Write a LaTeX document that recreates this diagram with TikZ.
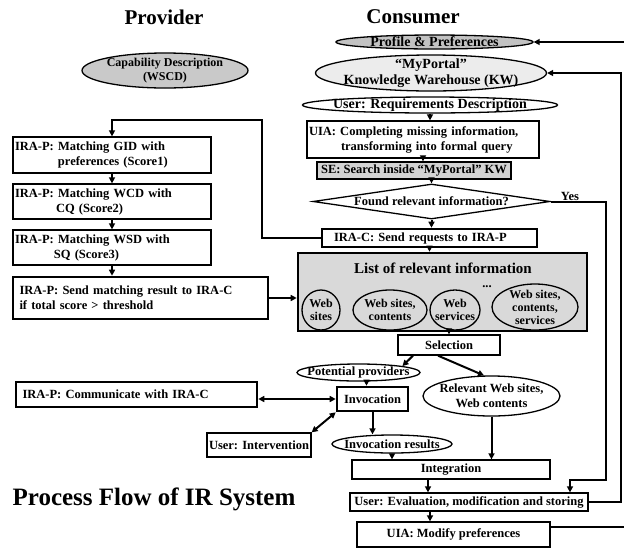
\documentclass[tikz,border=0pt]{standalone}
\usepackage{fontspec}
\setmainfont{Liberation Serif}
\usetikzlibrary{shapes.geometric}
\usetikzlibrary{arrows.meta}
\definecolor{capgray}{HTML}{C9C9C9}
\definecolor{profgray}{HTML}{C2C2C2}
\definecolor{portalgray}{HTML}{ECECEC}
\definecolor{segray}{HTML}{D3D3D3}
\definecolor{listgray}{HTML}{D9D9D9}

\begin{document}
\begin{tikzpicture}[x=1pt,y=-1pt,
  txt/.style={font=\bfseries\fontsize{12.5}{15}\selectfont},
  big/.style={font=\bfseries\fontsize{14}{15.5}\selectfont},
  inner/.style={font=\bfseries\fontsize{12}{13}\selectfont,align=center},
  title/.style={font=\bfseries\fontsize{21}{23}\selectfont},
  wh/.style 2 args={minimum width=#1pt,minimum height=#2pt},
  box/.style={draw,txt,line width=1.3pt,inner sep=1.5pt},
  thickbox/.style={box,line width=2.6pt},
  oval/.style={draw,ellipse,line width=1.3pt,inner sep=0pt},
  link/.style={line width=2pt,-{Triangle[length=6pt,width=6pt]}},
  both/.style={line width=2pt,{Triangle[length=6pt,width=6pt]}-{Triangle[length=6pt,width=6pt]}}]
\useasboundingbox (0,0) rectangle (624,550);
\clip (0,0) rectangle (624,550);

% titles
\node[title] (prov) at (164,17) {Provider};
\node[title] (cons) at (413,17) {Consumer};
\node[title,font=\bfseries\fontsize{25}{27}\selectfont] (sys) at (154,499) {Process Flow of IR System};

% consumer side
\node[oval,fill=capgray,wh={166}{35},label={[font=\bfseries\fontsize{12}{13.5}\selectfont,align=center]center:{Capability Description\\(WSCD)}}] (cap) at (165,70.5) {};
\node[oval,fill=profgray,wh={197}{14},label={[big]center:{Profile \& Preferences}}] (prof) at (434.5,42) {};
\node[oval,fill=portalgray,wh={231}{36},label={[big,align=center]center:{``MyPortal''\\Knowledge Warehouse (KW)}}] (portal) at (431,73) {};
\node[oval,wh={255}{16},label={[big]center:{User: Requirements Description}}] (req) at (430,105) {};
\node[box,wh={232}{37},text width=228pt,align=left] (uia) at (423,139.5) {UIA: Completing missing information,\\\hspace*{32pt}transforming into formal query};
\node[box,fill=segray,wh={194}{17},inner sep=0pt] (se) at (414,170.5) {SE: Search inside ``MyPortal'' KW};
\node[draw,diamond,aspect=6.77,inner sep=0pt,wh={237}{35},line width=1.3pt,txt] (found) at (431.5,201.5) {Found relevant information?};
\node[txt] (yes) at (570,196) {Yes};
\node[thickbox,wh={215}{18},inner sep=0pt,text width=207pt,align=left] (irac) at (429.5,238) {\hspace*{8pt}IRA-C: Send requests to IRA-P};

% list of relevant information
\node[draw,line width=2.6pt,fill=listgray,wh={289}{78}] (list) at (442.5,292) {};
\node[font=\bfseries\fontsize{15}{17}\selectfont] (listtitle) at (443,268) {List of relevant information};
\node[oval,wh={38}{40},label={[inner]center:{Web\\sites}}] (ws) at (321,310) {};
\node[oval,wh={74}{40},label={[inner]center:{Web sites,\\contents}}] (wsc) at (390,310) {};
\node[oval,wh={50}{40},label={[inner]center:{Web\\services}}] (wsv) at (455,310) {};
\node[txt] (dots) at (487,287) {...};
\node[oval,wh={86}{46},label={[inner]center:{Web sites,\\contents,\\services}}] (wscs) at (535,307) {};

% selection and invocation
\node[box,wh={102}{20}] (sel) at (449,345) {Selection};
\node[oval,wh={123}{17},label={[txt]center:{Potential providers}}] (pot) at (358.5,372.5) {};
\node[oval,wh={137}{40},label={[txt,align=center]center:{Relevant Web sites,\\Web contents}}] (rel) at (491.5,396) {};
\node[thickbox,wh={71}{24}] (inv) at (372.5,399) {Invocation};
\node[box,wh={104}{24},inner sep=1pt] (interv) at (259,445) {User: Intervention};
\node[oval,wh={120}{18},label={[txt]center:{Invocation results}}] (res) at (392,444) {};
\node[box,wh={198}{19}] (integ) at (451,469.5) {Integration};
\node[box,wh={238}{18},inner sep=0.5pt] (eval) at (469,502) {User: Evaluation, modification and storing};
\node[box,wh={193}{25}] (modp) at (453.5,534.5) {UIA: Modify preferences};

% provider side
\node[box,wh={198}{36},text width=194pt,align=left] (gid) at (112,155) {IRA-P: Matching GID with\\\hspace*{43pt}preferences (Score1)};
\node[box,wh={198}{35},text width=194pt,align=left] (wcd) at (112,201.5) {IRA-P: Matching WCD with\\\hspace*{41pt}CQ (Score2)};
\node[box,wh={198}{35},text width=194pt,align=left] (wsd) at (112,247.5) {IRA-P: Matching WSD with\\\hspace*{39pt}SQ (Score3)};
\node[thickbox,wh={255}{42},text width=246pt,align=left] (send) at (140.5,298) {\hspace*{2pt}IRA-P: Send matching result to IRA-C\\\hspace*{2pt}if total score > threshold};
\node[thickbox,wh={241}{25},text width=232pt,align=left] (comm) at (136.5,394.5) {\hspace*{2pt}IRA-P: Communicate with IRA-C};

% turning points
\coordinate (ret) at (262,120);
\coordinate (yesturn) at (606,480);
\coordinate (kwturn) at (621,73);
\coordinate (prefturn) at (628,42);

% connectors
\draw[link] (req.south) -- (req.south |- uia.north);
\draw[link] (uia.south) -- (uia.south |- se.north);
\draw[link] (found.north |- se.south) -- (found.north);
\draw[link] (found.south) -- (found.south |- irac.north);
\draw[link] (irac.south) -- (irac.south |- list.north);
\draw[link] (irac.west) -| (ret) -| (gid.north);
\draw[link] (gid.south) -- (wcd.north);
\draw[link] (wcd.south) -- (wsd.north);
\draw[link] (wsd.south) -- (send.north -| wsd.south);
\draw[link] (send.east) -- (send.east -| list.west);
\draw[link] (sel.north |- list.south) -- (sel.north);
\draw[link] ([xshift=-36pt]sel.south) -- (pot.north east);
\draw[link] ([xshift=-11pt]sel.south) -- (rel.110);
\draw[link] ([xshift=8pt]pot.south) -- ([xshift=8pt]pot.south |- inv.north);
\draw[both] (inv.west -| comm.east) -- (inv.west);
\draw[both] (interv.north east) -- (inv.south west);
\draw[link] (inv.south) -- (inv.south |- res.north);
\draw[link] (res.south) -- (res.south |- integ.north);
\draw[link] (rel.south) -- (rel.south |- integ.north);
\draw[link] ([xshift=-23pt]integ.south) -- ([xshift=-23pt]integ.south |- eval.north);
\draw[link] ([xshift=-39pt]eval.south) -- ([xshift=-39pt]eval.south |- modp.north);
\draw[link] (found.east) -| (yesturn) -| ([xshift=101pt]eval.north);
\draw[link] (eval.east) -| (kwturn) -- (portal.east);
\draw[link] ([yshift=7.5pt]modp.east) -| (prefturn) -- (prof.east);
\end{tikzpicture}
\end{document}
